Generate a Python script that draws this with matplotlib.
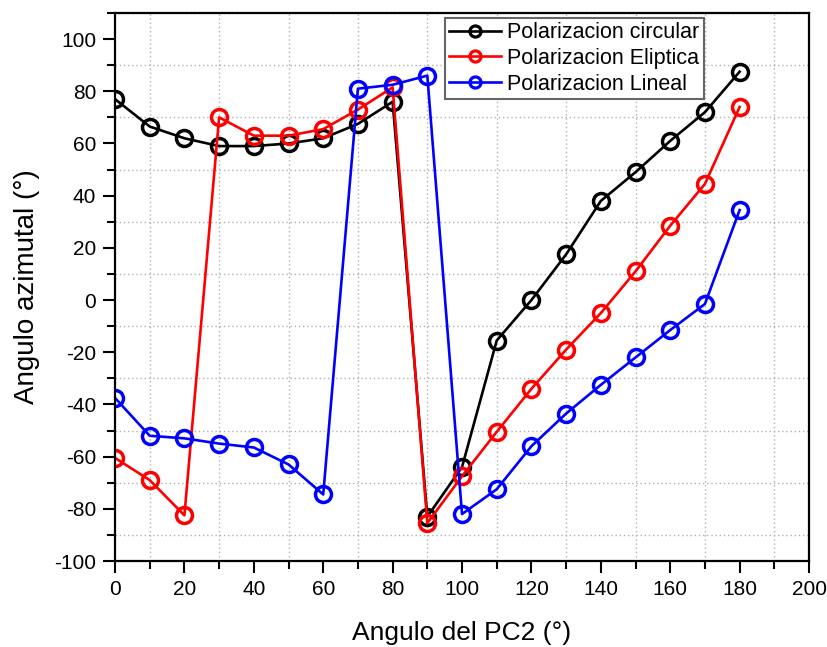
import numpy as np
import matplotlib
matplotlib.use('Agg')
import matplotlib.pyplot as plt
from matplotlib.ticker import MultipleLocator

plt.rcParams['font.family'] = ['Liberation Sans', 'DejaVu Sans']
plt.rcParams['axes.unicode_minus'] = False

angulo = [0, 10, 20, 30, 40, 50, 60, 70, 80, 90, 100, 110, 120, 130, 140, 150, 160, 170, 180]
circular = [77, 66.5, 62, 59, 59, 60, 62, 67.5, 76, -83, -64, -15.5, 0, 17.5, 38, 49, 61, 72, 87.5]
eliptica = [-60.5, -69, -82.5, 70, 63, 63, 65.5, 73, 81.5, -85.5, -67.5, -50.5, -34, -19, -5, 11, 28.5, 44.5, 74]
lineal = [-37.5, -52, -53, -55, -56.5, -63, -74.5, 81, 82.5, 86, -82, -72.5, -56, -43.5, -32.5, -22, -11.5, -1.5, 34.5]

fig = plt.figure(figsize=(8.28, 6.47), dpi=100)
ax = fig.add_axes([0.1389, 0.1329, 0.8382, 0.8470])

estilo = dict(marker='o', markersize=11.5, markerfacecolor='none', markeredgewidth=2.5, linewidth=1.9)
ax.plot(angulo, circular, color='black', label='Polarizacion circular', **estilo)
ax.plot(angulo, eliptica, color='red', label='Polarizacion Eliptica', **estilo)
ax.plot(angulo, lineal, color='blue', label='Polarizacion Lineal', **estilo)

ax.set_xlim(0, 200)
ax.set_ylim(-100, 110)
ax.xaxis.set_major_locator(MultipleLocator(20))
ax.xaxis.set_minor_locator(MultipleLocator(10))
ax.yaxis.set_major_locator(MultipleLocator(20))
ax.yaxis.set_minor_locator(MultipleLocator(10))
ax.tick_params(which='major', direction='out', length=8.5, width=1.5, labelsize=15, pad=5)
ax.tick_params(which='minor', direction='out', length=5.5, width=1.5)
# the grid only sits on the minor ticks, like in Origin
ax.grid(True, which='minor', linestyle=(0, (1, 2)), color='#b0b0b0', linewidth=1)
for s in ax.spines.values():
    s.set_linewidth(1.6)

ax.set_xlabel('Angulo del PC2 (°)', fontsize=19)
ax.set_ylabel('Angulo azimutal (°)', fontsize=20)
ax.xaxis.label.set_va('center')
ax.yaxis.label.set_va('center')
ax.xaxis.set_label_coords(0.5, -0.131)
ax.yaxis.set_label_coords(-0.127, 0.5)

leg = ax.legend(loc='upper left', bbox_to_anchor=(0.4755, 0.991), fontsize=15.5, fancybox=False,
                edgecolor='#666666', framealpha=1, borderpad=0.2, handlelength=2.4,
                labelspacing=0.22, handletextpad=0.3, borderaxespad=0)
leg.get_frame().set_linewidth(1.5)
for h in leg.legend_handles:
    h.set_markersize(8)
    h.set_markeredgewidth(2.3)
    h.set_linewidth(1.9)

fig.savefig('out.png', dpi=100)
